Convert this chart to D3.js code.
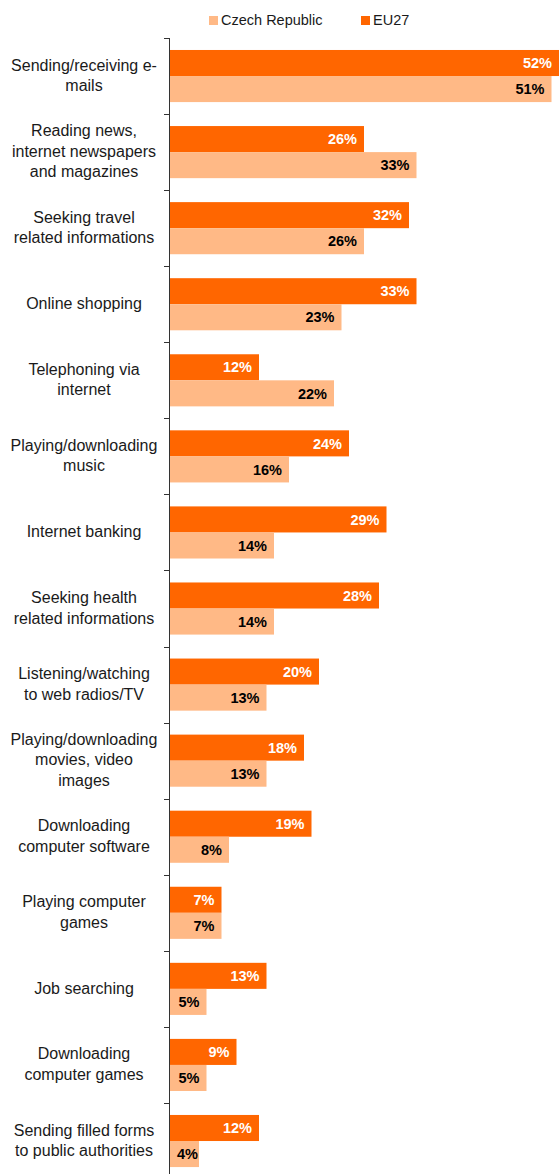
<!DOCTYPE html>
<html lang="en">
<head>
<meta charset="UTF-8">
<title>Internet activities</title>
<script src="https://cdn.jsdelivr.net/npm/d3@7"></script>
<style>
    body { margin: 0; background: #fff; }
    svg { display: block; font-family: "Liberation Sans", Arial, sans-serif; }
</style>
</head>
<body>
<script>
    // data
    var categories = [
        ['Sending/receiving e-', 'mails'],
        ['Reading news,', 'internet newspapers', 'and magazines'],
        ['Seeking travel', 'related informations'],
        ['Online shopping'],
        ['Telephoning via', 'internet'],
        ['Playing/downloading', 'music'],
        ['Internet banking'],
        ['Seeking health', 'related informations'],
        ['Listening/watching', 'to web radios/TV'],
        ['Playing/downloading', 'movies, video', 'images'],
        ['Downloading', 'computer software'],
        ['Playing computer', 'games'],
        ['Job searching'],
        ['Downloading', 'computer games'],
        ['Sending filled forms', 'to public authorities']
    ]
    var eu27 = [52, 26, 32, 33, 12, 24, 29, 28, 20, 18, 19, 7, 13, 9, 12]
    var czech = [51, 33, 26, 23, 22, 16, 14, 14, 13, 13, 8, 7, 5, 5, 4]
    var seriesNames = ['EU27', 'Czech Republic']
    var legendNames = ['Czech Republic', 'EU27']

    var width = 559,
        height = 1174,
        padLeft = 169,
        padTop = 38,
        step = 76.07,
        colors = {'EU27': '#ff6600', 'Czech Republic': '#ffb986'},
        textColors = {'EU27': '#ffffff', 'Czech Republic': '#000000'}

    var rows = categories.map((c, i) => ({
        label: c,
        values: [{key: 'EU27', v: eu27[i]}, {key: 'Czech Republic', v: czech[i]}]
    }))

    var svg = d3.select('body').append('svg')
        .attr('width', width)
        .attr('height', height)

    var y = d3.scaleBand()
        .domain(d3.range(categories.length))
        .range([padTop, padTop + step * categories.length])
    var y1 = d3.scaleBand()
        .domain(seriesNames)
        .range([0, y.bandwidth()])
        .paddingInner(0)
        .paddingOuter(0.46)
    var x = d3.scaleLinear()
        .domain([0, 52])
        .range([padLeft, 559])

    // legend
    var lg = svg.append('g').attr('class', 'legend')
    var legendX = [209, 361]
    legendNames.forEach((n, i) => {
        lg.append('rect')
            .attr('x', legendX[i]).attr('y', 16)
            .attr('width', 9).attr('height', 9)
            .attr('fill', colors[n])
        lg.append('text')
            .attr('x', legendX[i] + 12).attr('y', 25)
            .attr('font-size', 14.5)
            .attr('fill', '#1a1a1a')
            .text(n)
    })

    var g = svg.selectAll('.cat')
        .data(rows)
        .enter()
        .append('g')
        .attr('class', 'cat')
        .attr('transform', (d, i) => `translate(0, ${y(i)})`)

    g.selectAll('rect')
        .data(d => d.values)
        .enter()
        .append('rect')
        .attr('x', x(0))
        .attr('y', d => y1(d.key))
        .attr('width', d => x(d.v) - x(0))
        .attr('height', y1.bandwidth())
        .attr('fill', d => colors[d.key])

    g.selectAll('.val')
        .data(d => d.values)
        .enter()
        .append('text')
        .attr('class', 'val')
        .attr('y', d => y1(d.key) + y1.bandwidth() / 2)
        .attr('dy', '0.36em')
        .attr('text-anchor', 'end')
        .attr('font-size', 14.5)
        .attr('font-weight', 'bold')
        .attr('fill', d => textColors[d.key])
        .text(d => d.v + '%')
        .attr('x', function(d) {
            // keep small labels clear of the axis
            var w = this.getComputedTextLength()
            return Math.max(x(d.v) - 7, padLeft + 8 + w)
        })

    // category labels
    g.append('text')
        .attr('text-anchor', 'middle')
        .attr('font-size', 16)
        .attr('fill', '#1a1a1a')
        .each(function(d) {
            var n = d.label.length
            d3.select(this).selectAll('tspan')
                .data(d.label)
                .enter()
                .append('tspan')
                .attr('x', 84)
                .attr('y', (t, j) => y.bandwidth() / 2 - 1 + (j - (n - 1) / 2) * 20.5)
                .attr('dy', '0.36em')
                .text(t => t)
        })

    // axis line with ticks between groups
    svg.append('line')
        .attr('x1', padLeft + 0.5).attr('x2', padLeft + 0.5)
        .attr('y1', padTop).attr('y2', height)
        .attr('stroke', '#333')
    svg.selectAll('.tick')
        .data(d3.range(categories.length + 1))
        .enter()
        .append('line')
        .attr('class', 'tick')
        .attr('x1', padLeft - 5).attr('x2', padLeft)
        .attr('y1', i => Math.round(padTop + i * y.step()) + 0.5)
        .attr('y2', i => Math.round(padTop + i * y.step()) + 0.5)
        .attr('stroke', '#333')
</script>
</body>
</html>
